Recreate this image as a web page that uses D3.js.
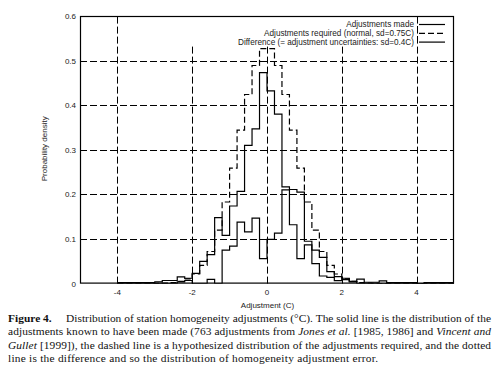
<!DOCTYPE html>
<html>
<head>
<meta charset="utf-8">
<script src="https://cdn.jsdelivr.net/npm/d3@7"></script>
<style>
  html, body { margin: 0; padding: 0; background: #fff; }
  svg { display: block; }
</style>
</head>
<body>
<div id="chart"></div>
<script>
// Left edges of the 0.2 C bins
const binLeft = [
  -4.0, -3.8, -3.6, -3.4, -3.2, -3.0, -2.8, -2.6, -2.4, -2.2,
  -2.0, -1.8, -1.6, -1.4, -1.2, -1.0, -0.8, -0.6, -0.4, -0.2,
   0.0,  0.2,  0.4,  0.6,  0.8,  1.0,  1.2,  1.4,  1.6,  1.8,
   2.0,  2.2,  2.4,  2.6,  2.8,  3.0,  3.2,  3.4,  3.6,  3.8,
   4.0,  4.2,  4.4,  4.6,  4.8
];
const binWidth = 0.2;

// Adjustments made (solid)
const madeValues = [
  0.002, 0.002, 0.002, 0.002, 0.002, 0.004, 0.007, 0.007, 0.015, 0.012,
  0.023, 0.050, 0.065, 0.148, 0.108, 0.174, 0.207, 0.310, 0.347, 0.473,
  0.432, 0.380, 0.217, 0.211, 0.205, 0.095, 0.075, 0.059, 0.027, 0.0155,
  0.012, 0.005, 0.010, 0.003, 0.003, 0.006, 0.002, 0.002, 0.002, 0.002,
  0.000, 0.002, 0.002, 0.002, 0.002
];

// Adjustments required, normal sd=0.75 (dashed)
const requiredValues = [
  0.000, 0.000, 0.000, 0.000, 0.000, 0.0005, 0.001, 0.002, 0.005, 0.0105,
  0.0215, 0.041, 0.072, 0.120, 0.183, 0.259, 0.344, 0.424, 0.489, 0.527,
  0.527, 0.489, 0.424, 0.344, 0.259, 0.183, 0.120, 0.072, 0.041, 0.0215,
  0.0105, 0.005, 0.002, 0.001, 0.0005, 0.000, 0.000, 0.000, 0.000, 0.000,
  0.000, 0.000, 0.000, 0.000, 0.000
];

// Difference (dotted in print)
const diffValues = [
  0.000, 0.000, 0.000, 0.000, 0.000, 0.000, 0.000, 0.000, 0.004, 0.007,
  0.000, 0.000, 0.0095, 0.000, 0.075, 0.084, 0.138, 0.116, 0.147, 0.056,
  0.099, 0.113, 0.210, 0.132, 0.056, 0.087, 0.045, 0.017, 0.014, 0.0066,
  0.009, 0.004, 0.000, 0.000, 0.000, 0.000, 0.000, 0.000, 0.000, 0.000,
  0.000, 0.000, 0.000, 0.000, 0.000
];

const xTicks = [-4, -2, 0, 2, 4];
const yTicks = [0, 0.1, 0.2, 0.3, 0.4, 0.5, 0.6];

const legendLabels = [
  'Adjustments made',
  'Adjustments required (normal, sd=0.75C)',
  'Difference (= adjustment uncertainties: sd=0.4C)'
];

const width = 496, height = 375;
const plot = { left: 80, right: 454, top: 16, bottom: 283.6 };
const sans = '"Liberation Sans", Arial, Helvetica, sans-serif';
const serif = '"Liberation Serif", "Times New Roman", Times, serif';

const svg = d3.select('#chart').append('svg')
  .attr('width', width)
  .attr('height', height);

const x = d3.scaleLinear().domain([-5, 5]).range([plot.left, plot.right]);
const y = d3.scaleLinear().domain([0, 0.6]).range([plot.bottom, plot.top]);

svg.append('defs').append('clipPath').attr('id', 'plotclip')
  .append('rect')
  .attr('x', plot.left).attr('y', plot.top)
  .attr('width', plot.right - plot.left).attr('height', plot.bottom - plot.top);

// Grid
const grid = svg.append('g').attr('stroke', '#000').attr('stroke-width', 1)
  .attr('stroke-dasharray', '7,3').attr('fill', 'none');
grid.selectAll('line.v').data(xTicks).join('line')
  .attr('class', 'v')
  .attr('x1', d => Math.round(x(d)) + 0.5).attr('x2', d => Math.round(x(d)) + 0.5)
  .attr('y1', plot.bottom).attr('y2', plot.top);
grid.selectAll('line.h').data(yTicks.filter(d => d > 0 && d < 0.6)).join('line')
  .attr('class', 'h')
  .attr('y1', d => Math.round(y(d)) + 0.5).attr('y2', d => Math.round(y(d)) + 0.5)
  .attr('x1', plot.left).attr('x2', plot.right);

// Histogram outlines
function stepPoints(values) {
  const pts = binLeft.map((b, i) => [b, values[i]]);
  pts.push([binLeft[binLeft.length - 1] + binWidth, values[values.length - 1]]);
  return pts;
}
const step = d3.line()
  .x(d => x(d[0]))
  .y(d => y(d[1]))
  .curve(d3.curveStepAfter);

const hist = svg.append('g').attr('clip-path', 'url(#plotclip)')
  .attr('fill', 'none').attr('stroke', '#000').attr('stroke-width', 1.2);

hist.append('path').attr('d', step(stepPoints(requiredValues)))
  .attr('stroke-dasharray', '6,3');
hist.append('path').attr('d', step(stepPoints(diffValues)));
hist.append('path').attr('d', step(stepPoints(madeValues)));

// Legend (opaque key area)
const legend = svg.append('g');
legend.append('rect')
  .attr('x', 186).attr('y', plot.top + 1)
  .attr('width', 230).attr('height', 28)
  .attr('fill', '#fff');
const legendStyles = [null, '6,3', null];
legendLabels.forEach((label, i) => {
  const ly = 24.5 + i * 8.8;
  legend.append('text')
    .attr('x', 414).attr('y', ly + 2.9)
    .attr('text-anchor', 'end')
    .attr('font-family', sans).attr('font-size', 8.2)
    .attr('fill', '#222')
    .text(label);
  legend.append('line')
    .attr('x1', 419).attr('x2', 445)
    .attr('y1', ly).attr('y2', ly)
    .attr('stroke', '#000').attr('stroke-width', 1.2)
    .attr('stroke-dasharray', legendStyles[i]);
});

// Re-draw the x=4 grid line over the key
svg.append('line')
  .attr('x1', Math.round(x(4)) + 0.5).attr('x2', Math.round(x(4)) + 0.5)
  .attr('y1', plot.top).attr('y2', plot.top + 30)
  .attr('stroke', '#000').attr('stroke-dasharray', '7,3');

// Frame
svg.append('rect')
  .attr('x', plot.left + 0.5).attr('y', plot.top + 0.5)
  .attr('width', plot.right - plot.left - 1).attr('height', plot.bottom - plot.top - 1)
  .attr('fill', 'none').attr('stroke', '#000').attr('stroke-width', 1.2);

// Tick labels
svg.append('g').selectAll('text').data(yTicks).join('text')
  .attr('x', plot.left - 4)
  .attr('y', d => y(d) + 3)
  .attr('text-anchor', 'end')
  .attr('font-family', sans).attr('font-size', 8).attr('fill', '#222')
  .text(d => d === 0 ? '0' : d.toFixed(1));

svg.append('g').selectAll('text').data(xTicks).join('text')
  .attr('x', d => x(d))
  .attr('y', plot.bottom + 11)
  .attr('text-anchor', 'middle')
  .attr('font-family', sans).attr('font-size', 8).attr('fill', '#222')
  .text(d => d < 0 ? '-' + Math.abs(d) : String(d));

// Axis titles
svg.append('text')
  .attr('x', (plot.left + plot.right) / 2 + 0.5)
  .attr('y', plot.bottom + 24.5)
  .attr('text-anchor', 'middle')
  .attr('font-family', sans).attr('font-size', 8).attr('fill', '#222')
  .text('Adjustment (C)');

svg.append('text')
  .attr('transform', `translate(46.5,${(plot.top + plot.bottom) / 2 - 1}) rotate(-90)`)
  .attr('text-anchor', 'middle')
  .attr('font-family', sans).attr('font-size', 8).attr('fill', '#222')
  .text('Probability density');

// Caption
const caption = [
  [['Figure 4.', 'b'], ['\u2003 Distribution of station homogeneity adjustments (\u00b0C). The solid line is the distribution of the', '']],
  [['adjustments known to have been made (763 adjustments from ', ''], ['Jones et al.', 'i'], [' [1985, 1986] and ', ''], ['Vincent and', 'i']],
  [['Gullet', 'i'], [' [1999]), the dashed line is a hypothesized distribution of the adjustments required, and the dotted', '']],
  [['line is the difference and so the distribution of homogeneity adjustment error.', '']]
];
const captionWidths = [483, 483, 483, 370];
caption.forEach((parts, i) => {
  const t = svg.append('text')
    .attr('x', 8).attr('y', 321.5 + i * 13.5)
    .attr('font-family', serif).attr('font-size', 11.4).attr('fill', '#111')
    .attr('xml:space', 'preserve')
    .attr('textLength', captionWidths[i])
    .attr('lengthAdjust', 'spacing');
  parts.forEach(([s, f]) => {
    t.append('tspan')
      .attr('font-weight', f === 'b' ? 'bold' : null)
      .attr('font-style', f === 'i' ? 'italic' : null)
      .text(s);
  });
});
</script>
</body>
</html>
